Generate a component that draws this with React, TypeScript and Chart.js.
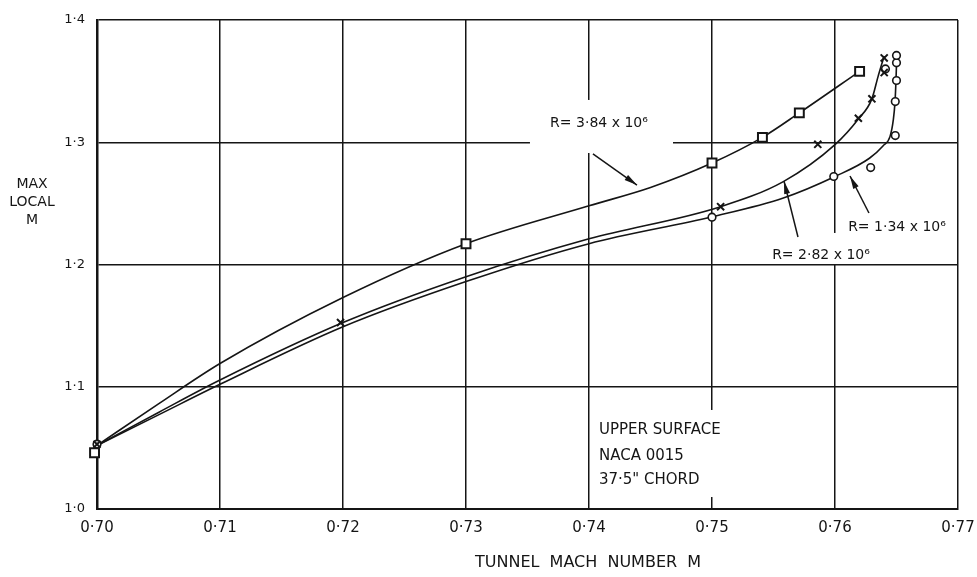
import { useEffect, useRef } from "react";
import { Chart, registerables } from "chart.js";

Chart.register(...registerables);

const FONT = "'DejaVu Sans', sans-serif";
const INK = "#151515";

// axis ranges
const X_MIN = 0.7;
const X_MAX = 0.77;
const X_STEP = 0.01;
const Y_MIN = 1.0;
const Y_MAX = 1.4;
const Y_STEP = 0.1;

// faired curves
const curve384X = [0.7, 0.705, 0.71, 0.72, 0.73, 0.74, 0.745, 0.75, 0.7541, 0.7571, 0.762];
const curve384Y = [1.052, 1.086, 1.119, 1.173, 1.217, 1.248, 1.263, 1.283, 1.304, 1.324, 1.358];

const curve282X = [0.7, 0.705, 0.71, 0.72, 0.73, 0.74, 0.7507, 0.7558, 0.76, 0.7619, 0.763, 0.7635, 0.764];
const curve282Y = [1.052, 1.079, 1.1055, 1.1525, 1.19, 1.221, 1.2473, 1.2678, 1.298, 1.319, 1.3355, 1.3537, 1.3705];

const curve134X = [0.7, 0.705, 0.71, 0.72, 0.73, 0.74, 0.75, 0.7558, 0.76, 0.7628, 0.7639, 0.76447, 0.76474, 0.76488, 0.76496, 0.76502];
const curve134Y = [1.052, 1.077, 1.102, 1.149, 1.186, 1.217, 1.239, 1.2544, 1.272, 1.2869, 1.297, 1.3046, 1.3183, 1.3332, 1.351, 1.371];

// measured points
const squareX = [0.6998, 0.73, 0.75, 0.7541, 0.7571, 0.762];
const squareY = [1.046, 1.217, 1.283, 1.304, 1.324, 1.358];

const crossX = [0.7, 0.7198, 0.7507, 0.7586, 0.7619, 0.763, 0.764, 0.764];
const crossY = [1.053, 1.1525, 1.2473, 1.2983, 1.3196, 1.3355, 1.357, 1.369];

const circleX = [0.7, 0.75, 0.7599, 0.7629, 0.7641, 0.7649, 0.7649, 0.765, 0.765, 0.765];
const circleY = [1.053, 1.2387, 1.272, 1.2793, 1.36, 1.3055, 1.3333, 1.3505, 1.365, 1.371];

// annotations (data units)
const labelTexts = ["R= 3·84 x 10⁶", "R= 2·82 x 10⁶", "R= 1·34 x 10⁶"];
const labelX = [0.74081, 0.75886, 0.76504];
const labelY = [1.3157, 1.2078, 1.2307];

const arrowFromX = [0.74032, 0.75699, 0.76276];
const arrowFromY = [1.2904, 1.2225, 1.2421];
const arrowToX = [0.7439, 0.75585, 0.76122];
const arrowToY = [1.265, 1.2683, 1.2724];

const boxX0 = [0.7352, 0.75471, 0.74045];
const boxX1 = [0.74683, 0.76325, 0.75146];
const boxY0 = [1.2912, 1.2004, 1.0098];
const boxY1 = [1.3346, 1.2258, 1.081];

const noteLines = ["UPPER SURFACE", "NACA 0015", "37·5\" CHORD"];
const noteX = 0.74081;
const noteY = [1.0646, 1.0434, 1.0237];

const yTitleLines = ["MAX", "LOCAL", "M"];
const yTitleCenter = 1.251;
const xTitle = "TUNNEL  MACH  NUMBER  M";
const xTitleX = 0.73992;

const zip = (xs: number[], ys: number[]) => xs.map((x, i) => ({ x, y: ys[i] }));

const annotationPlugin = {
  id: "paperNotes",
  beforeDatasetsDraw(chart: any) {
    const { ctx, scales, chartArea } = chart;
    const xs = scales.x;
    const ys = scales.y;
    ctx.save();
    // white paper behind the lettering (breaks the grid lines)
    ctx.fillStyle = "#ffffff";
    for (let i = 0; i < boxX0.length; i++) {
      const x0 = xs.getPixelForValue(boxX0[i]);
      const x1 = xs.getPixelForValue(boxX1[i]);
      const y0 = ys.getPixelForValue(boxY1[i]);
      const y1 = ys.getPixelForValue(boxY0[i]);
      ctx.fillRect(x0, y0, x1 - x0, y1 - y0);
    }
    ctx.fillStyle = INK;
    ctx.font = `14px ${FONT}`;
    ctx.textBaseline = "middle";
    ctx.textAlign = "center";
    for (let i = 0; i < labelTexts.length; i++) {
      ctx.fillText(labelTexts[i], xs.getPixelForValue(labelX[i]), ys.getPixelForValue(labelY[i]));
    }
    ctx.font = `15px ${FONT}`;
    ctx.textAlign = "left";
    for (let i = 0; i < noteLines.length; i++) {
      ctx.fillText(noteLines[i], xs.getPixelForValue(noteX), ys.getPixelForValue(noteY[i]));
    }
    // arrows
    ctx.strokeStyle = INK;
    ctx.lineWidth = 1.5;
    for (let i = 0; i < arrowFromX.length; i++) {
      const ax = xs.getPixelForValue(arrowFromX[i]);
      const ay = ys.getPixelForValue(arrowFromY[i]);
      const bx = xs.getPixelForValue(arrowToX[i]);
      const by = ys.getPixelForValue(arrowToY[i]);
      const ang = Math.atan2(by - ay, bx - ax);
      ctx.beginPath();
      ctx.moveTo(ax, ay);
      ctx.lineTo(bx, by);
      ctx.stroke();
      const len = 13;
      const w = 3;
      ctx.beginPath();
      ctx.moveTo(bx, by);
      ctx.lineTo(bx - len * Math.cos(ang) + w * Math.sin(ang), by - len * Math.sin(ang) - w * Math.cos(ang));
      ctx.lineTo(bx - len * Math.cos(ang) - w * Math.sin(ang), by - len * Math.sin(ang) + w * Math.cos(ang));
      ctx.closePath();
      ctx.fill();
    }
    // axis titles
    ctx.font = `14px ${FONT}`;
    ctx.textAlign = "center";
    const cy = ys.getPixelForValue(yTitleCenter);
    const tx = chartArea.left - 65;
    for (let i = 0; i < yTitleLines.length; i++) {
      ctx.fillText(yTitleLines[i], tx, cy + (i - 1) * 18);
    }
    ctx.font = `16px ${FONT}`;
    ctx.fillText(xTitle, xs.getPixelForValue(xTitleX), chartArea.bottom + 54);
    ctx.restore();
  },
};

export default function App() {
  const ref = useRef<HTMLCanvasElement | null>(null);
  useEffect(() => {
    if (!ref.current) return;
    const lineCommon = {
      type: "line" as const,
      borderColor: INK,
      borderWidth: 1.6,
      pointRadius: 0,
      fill: false,
      cubicInterpolationMode: "monotone" as const,
      clip: false as any,
      order: 2,
    };
    const markCommon = {
      type: "line" as const,
      showLine: false,
      borderColor: INK,
      backgroundColor: "#ffffff",
      clip: false as any,
      order: 0,
    };
    const chart = new Chart(ref.current, {
      type: "line",
      data: {
        datasets: [
          { ...lineCommon, label: "R=3.84e6 curve", data: zip(curve384X, curve384Y) },
          { ...lineCommon, label: "R=2.82e6 curve", data: zip(curve282X, curve282Y) },
          { ...lineCommon, label: "R=1.34e6 curve", data: zip(curve134X, curve134Y) },
          { ...markCommon, label: "R=3.84e6", data: zip(squareX, squareY), pointStyle: "rect", pointRadius: 6.3, pointBorderWidth: 2 },
          { ...markCommon, label: "R=2.82e6", data: zip(crossX, crossY), pointStyle: "crossRot", pointRadius: 5, pointBorderWidth: 2 },
          { ...markCommon, label: "R=1.34e6", data: zip(circleX, circleY), pointStyle: "circle", pointRadius: 3.8, pointBorderWidth: 1.6 },
        ] as any,
      },
      options: {
        responsive: false,
        animation: false,
        events: [],
        layout: { padding: { top: 20, right: 19, left: 0, bottom: 0 } },
        plugins: { legend: { display: false }, tooltip: { enabled: false } },
        scales: {
          x: {
            type: "linear",
            min: X_MIN,
            max: X_MAX,
            afterFit: (s: any) => {
              s.height = 68;
              s.paddingLeft = 0;
              s.paddingRight = 0;
            },
            ticks: {
              stepSize: X_STEP,
              padding: 10,
              color: INK,
              font: { family: FONT, size: 15 },
              maxRotation: 0,
              callback: (v: any) => Number(v).toFixed(2).replace(".", "·"),
            },
            grid: { color: INK, lineWidth: 1.5, drawTicks: false },
            border: { color: INK, width: 2 },
          },
          y: {
            type: "linear",
            min: Y_MIN,
            max: Y_MAX,
            afterFit: (s: any) => {
              s.width = 97;
              s.paddingTop = 0;
              s.paddingBottom = 0;
            },
            ticks: {
              stepSize: Y_STEP,
              padding: 12,
              color: INK,
              font: { family: FONT, size: 13 },
              callback: (v: any) => Number(v).toFixed(1).replace(".", "·"),
            },
            grid: { color: INK, lineWidth: 1.5, drawTicks: false },
            border: { color: INK, width: 2.5 },
          },
        },
      },
      plugins: [annotationPlugin],
    });
    return () => chart.destroy();
  }, []);
  return (
    <div style={{ position: "absolute", left: 0, top: 0, width: 977, height: 577, background: "#fff" }}>
      <canvas ref={ref} width={977} height={577} />
    </div>
  );
}
